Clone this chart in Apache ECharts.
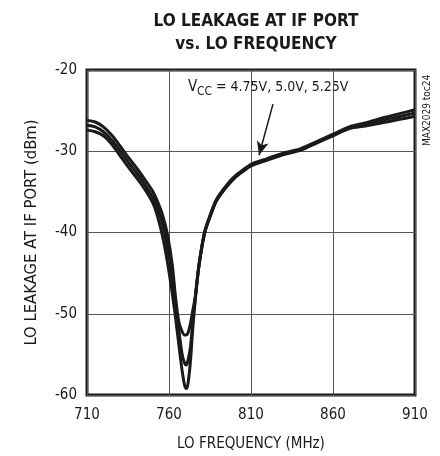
<!DOCTYPE html>
<html>
<head>
<meta charset="utf-8">
<script src="https://cdn.jsdelivr.net/npm/echarts@6/dist/echarts.min.js"></script>
<style>
  html, body { margin: 0; padding: 0; background: #fff; }
  #chart { width: 440px; height: 456px; }
</style>
</head>
<body>
<div id="chart"></div>
<script>
// LO frequency (MHz), shared by the three supply voltages
const freq = [710, 715, 720, 725, 730, 735, 740, 745, 750, 753, 756, 759, 762, 764, 766, 768, 769.5, 770.5, 771.5, 773, 774.5, 776,
    778, 780, 782, 785, 789, 795, 800, 805, 810, 820, 830, 840, 850, 860, 870, 880, 890, 900, 910];

// LO leakage (dBm), one curve per VCC
const leakLow = [-27.4, -27.6, -28.1, -29.1, -30.5, -31.9, -33.2, -34.6, -36.3, -38.0, -40.4, -43.6, -47.5, -50.5, -53.8, -57.0, -58.8, -59.2, -58.7, -56.0, -51.8, -48.3,
    -44.5, -41.9, -39.9, -38.1, -36.1, -34.4, -33.3, -32.5, -31.8, -31.1, -30.4, -29.9, -29.0, -28.1, -27.2, -26.9, -26.5, -26.1, -25.7];
const leakMid = [-26.8, -27.0, -27.6, -28.6, -29.9, -31.3, -32.6, -34.0, -35.6, -37.0, -38.9, -41.8, -45.5, -48.6, -52.0, -55.0, -56.1, -56.3, -55.8, -54.2, -51.0, -48.1,
    -44.5, -41.8, -39.8, -38.0, -36.0, -34.3, -33.2, -32.4, -31.7, -31.0, -30.3, -29.8, -28.9, -28.0, -27.1, -26.7, -26.2, -25.75, -25.3];
const leakHigh = [-26.2, -26.4, -27.0, -28.0, -29.3, -30.7, -32.0, -33.4, -34.9, -36.2, -37.8, -40.2, -44.0, -48.0, -51.0, -52.2, -52.6, -52.6, -52.4, -51.3, -49.6, -47.9,
    -44.4, -41.7, -39.7, -37.9, -35.9, -34.2, -33.1, -32.3, -31.6, -30.9, -30.2, -29.7, -28.8, -27.9, -27.0, -26.5, -25.9, -25.4, -24.9];

// arrow from the VCC label to the curves: [freq, dBm]
const arrowStart = [823.4, -24.2];
const arrowEnd = [814.9, -30.5];

const FONT = '"DejaVu Sans Condensed", "Liberation Sans Narrow", sans-serif';
const INK = '#1a1a1a';

const chart = echarts.init(document.getElementById('chart'));

function makeSeries(name, values, withArrow) {
    const s = {
        name: name,
        type: 'line',
        data: freq.map((f, i) => [f, values[i]]),
        showSymbol: false,
        smooth: 0.3,
        lineStyle: { color: INK, width: 3 },
        z: 3
    };
    if (withArrow) {
        s.markLine = {
            silent: true,
            symbol: ['none', 'arrow'],
            symbolSize: [9, 14],
            label: { show: false },
            lineStyle: { color: INK, width: 1.5, type: 'solid' },
            data: [[{ coord: arrowStart }, { coord: arrowEnd }]]
        };
    }
    return s;
}

const option = {
    backgroundColor: '#fff',
    animation: false,
    textStyle: { fontFamily: FONT },
    title: {
        text: 'LO LEAKAGE AT IF PORT\nvs. LO FREQUENCY',
        left: 251,
        top: 5,
        textAlign: 'center',
        textStyle: { fontFamily: FONT, fontWeight: 'bold', fontSize: 17, lineHeight: 23, color: INK }
    },
    grid: {
        left: 87, right: 25, top: 70, bottom: 61,
        show: true,
        borderColor: INK,
        borderWidth: 3,
        outerBoundsMode: 'none'
    },
    xAxis: {
        type: 'value',
        min: 710, max: 910, interval: 50,
        name: 'LO FREQUENCY (MHz)',
        nameLocation: 'middle',
        nameGap: 42,
        nameTextStyle: { fontFamily: FONT, fontSize: 15, color: INK },
        axisLine: { show: false },
        axisTick: { show: false },
        axisLabel: { fontFamily: FONT, fontSize: 15, color: INK, margin: 13 },
        splitLine: { show: true, lineStyle: { color: '#555', width: 1 } }
    },
    yAxis: {
        type: 'value',
        min: -60, max: -20, interval: 10,
        name: 'LO LEAKAGE AT IF PORT (dBm)',
        nameLocation: 'middle',
        nameGap: 47,
        nameTextStyle: { fontFamily: FONT, fontSize: 16.5, color: INK },
        axisLine: { show: false },
        axisTick: { show: false },
        axisLabel: { fontFamily: FONT, fontSize: 15, color: INK, margin: 10 },
        splitLine: { show: true, lineStyle: { color: '#555', width: 1 } }
    },
    graphic: [
        {
            type: 'text', left: 188, top: 80,
            style: { text: 'V', font: '15px ' + FONT, fill: INK }
        },
        {
            type: 'text', left: 197, top: 86,
            style: { text: 'CC', font: '12px ' + FONT, fill: INK }
        },
        {
            type: 'text', left: 216, top: 80,
            style: { text: '= 4.75V, 5.0V, 5.25V', font: '14px ' + FONT, fill: INK }
        },
        {
            type: 'text', x: 422, y: 146, rotation: Math.PI / 2,
            style: { text: 'MAX2029 toc24', font: '10px ' + FONT, fill: INK }
        }
    ],
    series: [
        makeSeries('4.75V', leakLow, true),
        makeSeries('5.0V', leakMid, false),
        makeSeries('5.25V', leakHigh, false)
    ]
};

chart.setOption(option);
</script>
</body>
</html>
